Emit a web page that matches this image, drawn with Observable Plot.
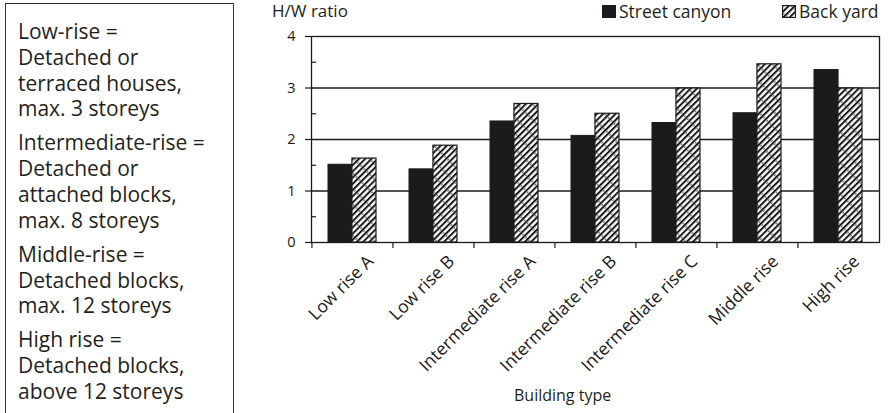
<!DOCTYPE html>
<html>
<head>
<meta charset="utf-8">
<script src="https://cdn.jsdelivr.net/npm/d3@7"></script>
<script src="https://cdn.jsdelivr.net/npm/@observablehq/plot@0.6"></script>
<style>
  html, body { margin: 0; padding: 0; background: #fff; }
  body { width: 892px; height: 413px; position: relative; overflow: hidden; font-family: "Open Sans", sans-serif; color: #231f20; }
  #chart { position: absolute; left: 0; top: 0; }
  #note { position: absolute; left: 5px; top: 3px; width: 229px; height: 430px; border: 1.5px solid #333; box-sizing: border-box; padding: 15px 0 0 12px; font-size: 21px; line-height: 25.8px; }
  #note p { margin: 0 0 8.2px 0; }
  .t { position: absolute; white-space: nowrap; font-size: 17.5px; line-height: 20px; color: #231f20; }
  .sw { position: absolute; width: 14px; height: 13px; box-sizing: border-box; }
</style>
</head>
<body>
<div id="chart"></div>
<div id="note"></div>
<div class="t" id="ylab" style="left:272px; top:1px; font-size:17px;"></div>
<div class="sw" style="left:602px; top:5px; background:#1c1a1a;"></div>
<div class="t" id="leg1" style="left:619px; top:1px;"></div>
<svg class="sw" style="left:782px; top:5px;" width="14" height="13"><rect x="0.5" y="0.5" width="13" height="12" fill="url(#hatch)" stroke="#1c1a1a" stroke-width="1.2"/></svg>
<div class="t" id="leg2" style="left:799px; top:1px;"></div>
<div class="t" id="xlab" style="left:514px; top:385px; font-size:16px;"></div>
<script>
const categories = ["Low rise A", "Low rise B", "Intermediate rise A", "Intermediate rise B", "Intermediate rise C", "Middle rise", "High rise"];
const streetCanyon = [1.51, 1.42, 2.35, 2.07, 2.32, 2.51, 3.35];
const backYard = [1.63, 1.88, 2.69, 2.50, 2.99, 3.46, 2.99];
const seriesNames = ["Street canyon", "Back yard"];
const yTicks = [0, 1, 2, 3, 4];
const yMinorTicks = [0.5, 1.5, 2.5, 3.5];
const gridValues = [1, 2, 3];
const yTitle = "H/W ratio";
const xTitle = "Building type";
const noteGroups = [
  ["Low-rise =", "Detached or", "terraced houses,", "max. 3 storeys"],
  ["Intermediate-rise =", "Detached or", "attached blocks,", "max. 8 storeys"],
  ["Middle-rise =", "Detached blocks,", "max. 12 storeys"],
  ["High rise =", "Detached blocks,", "above 12 storeys"]
];

const rows = categories.map((c, i) => ({category: c, street: streetCanyon[i], back: backYard[i]}));

const W = 892, H = 413, mL = 311, mR = 13, mT = 36, mB = 171;
const step = (W - mL - mR) / categories.length;
const padInner = 0.41;
const bw = step * (1 - padInner);
const ink = "#1c1a1a";

const plot = Plot.plot({
  width: W, height: H,
  marginLeft: mL, marginRight: mR, marginTop: mT, marginBottom: mB,
  style: {fontFamily: "'Open Sans', sans-serif", color: ink, background: "transparent"},
  x: {domain: categories, paddingInner: padInner, paddingOuter: padInner / 2, label: null},
  y: {domain: [0, 4], label: null},
  marks: [
    Plot.ruleY(gridValues, {stroke: ink, strokeWidth: 1.3}),
    Plot.frame({stroke: ink, strokeWidth: 1.3}),
    Plot.barY(rows, {x: "category", y: "street", fill: ink, stroke: ink, strokeWidth: 1, insetRight: bw / 2}),
    Plot.barY(rows, {x: "category", y: "back", fill: "url(#hatch)", stroke: ink, strokeWidth: 1.2, insetLeft: bw / 2}),
    Plot.ruleX(categories, {x: d => d, y1: 0, y2: 0, insetBottom: -6, dx: -step / 2, stroke: ink, strokeWidth: 1.2}),
    Plot.axisY({ticks: yTicks, tickFormat: d3.format("d"), tickSize: 6, tickPadding: 10, fontSize: 14.5, label: null, stroke: ink, strokeWidth: 1.2}),
    Plot.axisY({ticks: yMinorTicks, tickSize: 5, dx: 5, tickFormat: () => "", label: null, stroke: ink, strokeWidth: 1.2}),
    Plot.axisX({tickRotate: -45, tickSize: 0, tickPadding: 16, dx: 18, fontSize: 17.5, label: null})
  ]
});

const defs = d3.select(plot).insert("defs", ":first-child");
const pat = defs.append("pattern").attr("id", "hatch").attr("patternUnits", "userSpaceOnUse")
  .attr("width", 4.4).attr("height", 11).attr("patternTransform", "rotate(45)");
pat.append("rect").attr("width", 4.4).attr("height", 11).attr("fill", "#fff");
pat.append("rect").attr("x", 0).attr("width", 2).attr("height", 11).attr("fill", ink);
pat.append("circle").attr("cx", 3.2).attr("cy", 5).attr("r", 0.7).attr("fill", ink);

document.getElementById("chart").appendChild(plot);

const note = d3.select("#note");
noteGroups.forEach(g => {
  const p = note.append("p");
  g.forEach((line, i) => { if (i) p.append("br"); p.append("span").text(line); });
});
d3.select("#ylab").text(yTitle);
d3.select("#leg1").text(seriesNames[0]);
d3.select("#leg2").text(seriesNames[1]);
d3.select("#xlab").text(xTitle);
</script>
</body>
</html>
